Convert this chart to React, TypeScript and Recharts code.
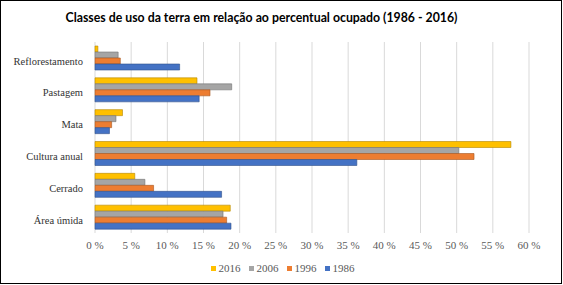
import React from 'react';
import { BarChart, Bar, XAxis, YAxis, CartesianGrid, Legend } from 'recharts';

const categories = ['Reflorestamento', 'Pastagem', 'Mata', 'Cultura anual', 'Cerrado', 'Área úmida'];
const values2016 = [0.4, 14.1, 3.8, 57.5, 5.5, 18.7];
const values2006 = [3.2, 18.9, 2.9, 50.3, 6.9, 17.7];
const values1996 = [3.5, 15.9, 2.3, 52.4, 8.1, 18.2];
const values1986 = [11.7, 14.4, 2.0, 36.2, 17.5, 18.8];
const xTicks = [0, 5, 10, 15, 20, 25, 30, 35, 40, 45, 50, 55, 60];

const seriesKeys = ['2016', '2006', '1996', '1986'];
const seriesColors: Record<string, string> = {
  '2016': '#FFC000',
  '2006': '#A5A5A5',
  '1996': '#ED7D31',
  '1986': '#4472C4',
};
const seriesStrokes: Record<string, string> = {
  '2016': '#B38700',
  '2006': '#747474',
  '1996': '#A65822',
  '1986': '#30508A',
};

const SERIF = "'Liberation Serif', 'Times New Roman', 'DejaVu Serif', serif";

const data = categories.map((name, i) => ({
  name,
  '2016': values2016[i],
  '2006': values2006[i],
  '1996': values1996[i],
  '1986': values1986[i],
}));

const LegendContent = () => (
  <div
    style={{
      height: 30,
      display: 'flex',
      alignItems: 'center',
      justifyContent: 'center',
      fontFamily: SERIF,
      fontSize: 11,
      color: '#595959',
      paddingLeft: 36,
    }}
  >
    {seriesKeys.map((k, i) => (
      <div key={k} style={{ display: 'flex', alignItems: 'center', marginLeft: i === 0 ? 0 : 8 }}>
        <span style={{ display: 'inline-block', width: 5, height: 5, background: seriesColors[k], marginRight: 3 }} />
        <span>{k}</span>
      </div>
    ))}
  </div>
);

export default function App() {
  return (
    <div style={{ position: 'absolute', left: 0, top: 0, width: 563, height: 285, background: '#fff', fontFamily: SERIF }}>
      <div
        style={{
          position: 'absolute',
          left: 0,
          top: 0,
          width: 562,
          height: 284,
          border: '1px solid #000',
          boxSizing: 'border-box',
          pointerEvents: 'none',
          zIndex: 2,
        }}
      />
      <div
        style={{
          position: 'absolute',
          left: 0,
          top: 9,
          width: 523,
          textAlign: 'center',
          fontFamily: 'Lato, "Liberation Sans", sans-serif',
          fontWeight: 700,
          fontSize: 12.3,
          color: '#000',
          lineHeight: '18px',
          zIndex: 1,
        }}
      >
        Classes de uso da terra em relação ao percentual ocupado (1986 - 2016)
      </div>
      <BarChart
        width={563}
        height={285}
        data={data}
        layout="vertical"
        margin={{ top: 42, right: 34, bottom: 2, left: 0 }}
        barGap={0}
        barSize={6}
        style={{ fontFamily: SERIF }}
      >
        <CartesianGrid horizontal={false} stroke="#D9D9D9" />
        <XAxis
          type="number"
          domain={[0, 60]}
          ticks={xTicks}
          interval={0}
          tickFormatter={(v: number) => `${v} %`}
          axisLine={false}
          tickLine={false}
          height={20}
          tick={{ fontSize: 11, fill: '#595959', style: { fontFamily: SERIF } }}
        />
        <YAxis
          type="category"
          dataKey="name"
          width={95}
          axisLine={false}
          tickLine={false}
          tickMargin={6}
          tick={{ fontSize: 10.5, fill: '#333', dy: 3, style: { fontFamily: SERIF } }}
        />
        <Legend verticalAlign="bottom" content={<LegendContent />} />
        {seriesKeys.map((k) => (
          <Bar
            key={k}
            dataKey={k}
            fill={seriesColors[k]}
            stroke={seriesStrokes[k]}
            strokeWidth={0.6}
            isAnimationActive={false}
          />
        ))}
      </BarChart>
    </div>
  );
}
